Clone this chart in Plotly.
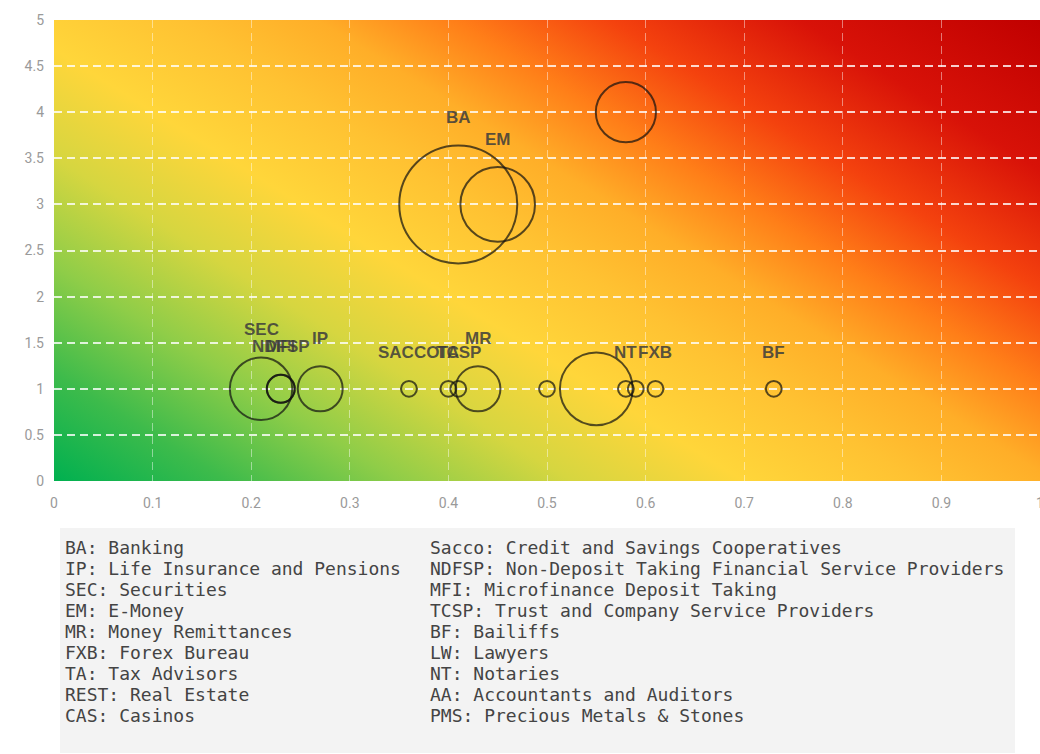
import base64
import math
import plotly.graph_objects as go

# ---- data -------------------------------------------------------------
point_labels = ["BA", "EM", "", "SEC", "NDFSP", "MFI", "IP", "SACCO", "TA",
                "TCSP", "MR", "", "", "NT", "", "FXB", "BF"]
x_vals = [0.41, 0.45, 0.58, 0.21, 0.23, 0.23, 0.27, 0.36, 0.40,
          0.41, 0.43, 0.50, 0.55, 0.58, 0.59, 0.61, 0.73]
y_vals = [3, 3, 4, 1, 1, 1, 1, 1, 1,
          1, 1, 1, 1, 1, 1, 1, 1]
bubble_sizes = [100, 40, 26, 28, 5.6, 5.6, 14.5, 1.8, 1.8,
                1.8, 14.5, 1.8, 38, 1.8, 1.8, 1.8, 1.8]

x_ticks = [0, 0.1, 0.2, 0.3, 0.4, 0.5, 0.6, 0.7, 0.8, 0.9, 1]
x_ticktext = ["0", "0.1", "0.2", "0.3", "0.4", "0.5", "0.6", "0.7", "0.8", "0.9", "1"]
y_ticks = [0, 0.5, 1, 1.5, 2, 2.5, 3, 3.5, 4, 4.5, 5]
y_ticktext = ["0", "0.5", "1", "1.5", "2", "2.5", "3", "3.5", "4", "4.5", "5"]

key_left = ["BA: Banking", "IP: Life Insurance and Pensions", "SEC: Securities",
            "EM: E-Money", "MR: Money Remittances", "FXB: Forex Bureau",
            "TA: Tax Advisors", "REST: Real Estate", "CAS: Casinos"]
key_right = ["Sacco: Credit and Savings Cooperatives",
             "NDFSP: Non-Deposit Taking Financial Service Providers",
             "MFI: Microfinance Deposit Taking",
             "TCSP: Trust and Company Service Providers",
             "BF: Bailiffs", "LW: Lawyers", "NT: Notaries",
             "AA: Accountants and Auditors", "PMS: Precious Metals & Stones"]

# ---- layout geometry (pixels) ------------------------------------------
W, H = 1040, 754
PL, PR, PT, PB = 54, 1040, 20, 481
MAX_DIAM = 118


def px_x(px):
    return (px - PL) / (PR - PL)


def px_y(py):
    return (PB - py) / (PB - PT)


# ---- heat-map style background as a stretched SVG gradient -------------
stops = [(0.00, "#00b050"), (0.10, "#3dbb4b"), (0.20, "#8fcd48"),
         (0.30, "#d6d640"), (0.40, "#ffd63a"), (0.50, "#ffc232"),
         (0.58, "#ffae28"), (0.66, "#ff7e18"), (0.75, "#f4420e"),
         (0.86, "#d81208"), (1.00, "#c00000")]
stop_xml = "".join(f'<stop offset="{o}" stop-color="{c}"/>' for o, c in stops)
svg = ('<svg xmlns="http://www.w3.org/2000/svg" width="200" height="200" '
       'viewBox="0 0 200 200" preserveAspectRatio="none">'
       '<defs><linearGradient id="g" x1="0" y1="1" x2="1.122" y2="0.161">'
       + stop_xml +
       '</linearGradient></defs>'
       '<rect x="0" y="0" width="200" height="200" fill="url(#g)"/></svg>')
svg_uri = "data:image/svg+xml;base64," + base64.b64encode(svg.encode()).decode()

sizeref = 2.0 * max(bubble_sizes) / (MAX_DIAM ** 2)

fig = go.Figure()
fig.add_trace(go.Scatter(
    x=x_vals, y=y_vals, mode="markers",
    marker=dict(size=bubble_sizes, sizemode="area", sizeref=sizeref,
                color="rgba(0,0,0,0)",
                line=dict(color="#111111", width=2)),
    hovertext=point_labels, hoverinfo="text+x+y",
    showlegend=False,
))

annotations = []
for lab, xv, yv, sv in zip(point_labels, x_vals, y_vals, bubble_sizes):
    if not lab:
        continue
    r = math.sqrt(sv / 2.0 / sizeref)
    annotations.append(dict(
        x=xv, y=yv, xref="x", yref="y", text=f"<b>{lab}</b>",
        showarrow=False, yshift=r + 28, xanchor="center", yanchor="middle",
        font=dict(family="Liberation Sans, Arial", size=17,
                  color="rgba(60,60,60,0.85)"),
    ))

# key of sector abbreviations beneath the chart
row0, row_step = 547, 21.1
for i, (lt, rt) in enumerate(zip(key_left, key_right)):
    yy = px_y(row0 + i * row_step)
    for txt, xpx in ((lt, 63), (rt, 428)):
        annotations.append(dict(
            x=px_x(xpx), y=yy, xref="paper", yref="paper", text=txt,
            showarrow=False, xanchor="left", yanchor="middle",
            font=dict(family="DejaVu Sans Mono", size=18, color="#444444"),
        ))

shapes = [dict(type="rect", xref="paper", yref="paper",
               x0=px_x(60), x1=px_x(1015), y0=px_y(753), y1=px_y(528),
               fillcolor="#f3f3f3", line=dict(width=0), layer="below")]

fig.update_layout(
    width=W, height=H,
    margin=dict(l=PL, r=W - PR, t=PT, b=H - PB, autoexpand=False),
    paper_bgcolor="white", plot_bgcolor="rgba(0,0,0,0)",
    images=[dict(source=svg_uri, xref="x", yref="y", x=0, y=5,
                 sizex=1, sizey=5, sizing="stretch", layer="below",
                 xanchor="left", yanchor="top")],
    xaxis=dict(range=[0, 1], tickvals=x_ticks, ticktext=x_ticktext,
               showgrid=True, gridcolor="rgba(255,255,255,0.45)",
               gridwidth=1, griddash="8px,5px", zeroline=False,
               showline=False, ticks="", ticklabelstandoff=12,
               ticklabeloverflow="allow", automargin=False,
               tickfont=dict(family="Liberation Sans Narrow, Roboto", size=14,
                             color="#9a9a9a")),
    yaxis=dict(range=[0, 5], tickvals=y_ticks, ticktext=y_ticktext,
               showgrid=True, gridcolor="rgba(255,255,255,0.8)",
               gridwidth=1.5, griddash="8px,5px", zeroline=False,
               showline=False, ticks="", ticklabelstandoff=9,
               automargin=False,
               tickfont=dict(family="Liberation Sans Narrow, Roboto", size=14,
                             color="#9a9a9a")),
    annotations=annotations,
    shapes=shapes,
)

fig.write_html("out.html")
